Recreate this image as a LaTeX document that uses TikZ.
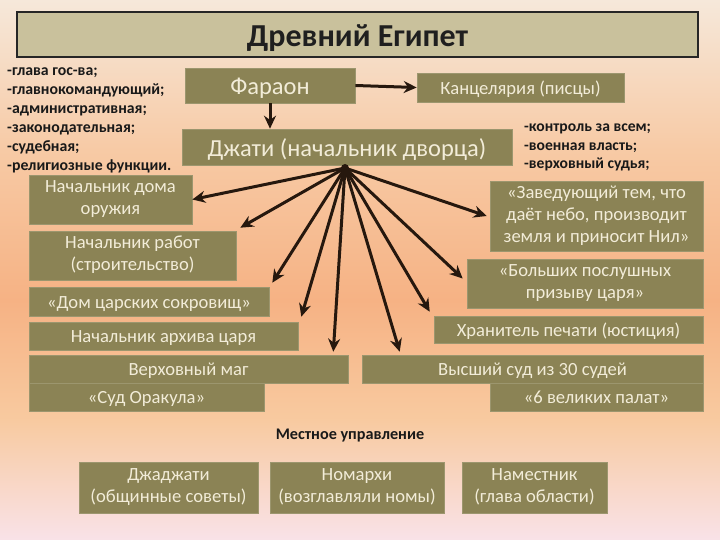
\documentclass[tikz,border=0pt]{standalone}
\usepackage{fontspec}
\setmainfont{Carlito}
\usetikzlibrary{arrows.meta}
\definecolor{bgA}{RGB}{246,232,218}
\definecolor{bgB}{RGB}{247,202,165}
\definecolor{bgC}{RGB}{246,178,132}
\definecolor{bgD}{RGB}{248,202,160}
\definecolor{bgE}{RGB}{249,226,232}
\definecolor{olive}{RGB}{139,131,85}
\definecolor{cream}{RGB}{242,236,216}
\definecolor{titlefill}{RGB}{201,193,156}
\definecolor{arr}{RGB}{38,24,14}
\tikzset{
  lowtext/.style={execute at begin node={\rule{0pt}{0.98em}}, execute at end node={\rule[-0.24em]{0pt}{0pt}}},
  box/.style={fill=olive, draw=olive!85!white, line width=0.6pt, text=cream, align=center, inner sep=2pt, font=\fontsize{18.6}{22}\selectfont, lowtext},
  bigbox/.style={box, font=\fontsize{24.5}{28}\selectfont},
  arrowline/.style={draw=arr, line width=3pt, -{Stealth[length=13pt,width=12pt]}},
  dark/.style={text=black!90, inner sep=0pt},
  lefttxt/.style={dark, anchor=base west, font=\fontsize{15.8}{18}\selectfont\bfseries},
  righttxt/.style={dark, anchor=base west, font=\fontsize{15.6}{18}\selectfont\bfseries}
}
\begin{document}
\begin{tikzpicture}[x=1pt,y=-1pt]
\useasboundingbox (0,0) rectangle (720,540);
\shade[top color=bgA, bottom color=bgB] (0,0) rectangle (720,150.5);
\shade[top color=bgB, bottom color=bgC] (0,150) rectangle (720,300.5);
\shade[top color=bgC, bottom color=bgD] (0,300) rectangle (720,420.5);
\shade[top color=bgD, bottom color=bgE] (0,420) rectangle (720,540);
% title
\node[fill=titlefill, draw=black!85, line width=1.3pt, minimum width=681pt, minimum height=45pt, inner sep=0pt, font=\fontsize{32}{34}\selectfont\bfseries, text=black!88, lowtext] (title) at (357.5,34.5) {Древний Египет};
% top chain
\node[bigbox, minimum width=170pt, minimum height=35pt] (phar) at (270,85.5) {Фараон};
\node[box, minimum width=207pt, minimum height=29pt] (kanc) at (520.5,87.5) {Канцелярия (писцы)};
\node[bigbox, minimum width=330pt, minimum height=36pt] (dzh) at (347,147) {Джати (начальник дворца)};
% left text
\node[lefttxt] (d1) at (7,76) {-глава гос-ва;};
\node[lefttxt] (d2) at (7,95) {-главнокомандующий;};
\node[lefttxt] (d3) at (7,114) {-административная;};
\node[lefttxt] (d4) at (7,133) {-законодательная;};
\node[lefttxt] (d5) at (7,152) {-судебная;};
\node[lefttxt] (d6) at (7,171) {-религиозные функции.};
\node[righttxt] (j1) at (524,132) {-контроль за всем;};
\node[righttxt] (j2) at (524,151) {-военная власть;};
\node[righttxt] (j3) at (524,169) {-верховный судья;};
% left boxes
\node[box, minimum width=163pt, minimum height=49pt] (b1) at (110.5,199.5) {Начальник дома\\оружия};
\node[box, minimum width=207pt, minimum height=49pt] (b2) at (132.5,255.5) {Начальник работ\\(строительство)};
\node[box, minimum width=240pt, minimum height=29pt] (b3) at (149,301.5) {«Дом царских сокровищ»};
\node[box, minimum width=269pt, minimum height=28pt] (b4) at (163.5,336) {Начальник архива царя};
\node[box, minimum width=319pt, minimum height=28pt] (b5) at (188.5,369) {Верховный маг};
\node[box, minimum width=235pt, minimum height=28pt] (b6) at (146.5,397) {«Суд Оракула»};
% right boxes
\node[box, minimum width=213pt, minimum height=70pt] (r1) at (596.5,216) {«Заведующий тем, что\\даёт небо, производит\\земля и приносит Нил»};
\node[box, minimum width=236pt, minimum height=49pt] (r2) at (585,283.5) {«Больших послушных\\призыву царя»};
\node[box, minimum width=269pt, minimum height=27pt] (r3) at (568.5,329.5) {Хранитель печати (юстиция)};
\node[box, minimum width=341pt, minimum height=28pt] (r5) at (532.5,369) {Высший суд из 30 судей};
\node[box, minimum width=213pt, minimum height=28pt] (r6) at (596.5,397) {«6 великих палат»};
% local
\node[dark, font=\fontsize{16.2}{18}\selectfont\bfseries] (local) at (350,436) {Местное управление};
\node[box, minimum width=179pt, minimum height=51pt] (l1) at (168.5,487.5) {Джаджати\\(общинные советы)};
\node[box, minimum width=174pt, minimum height=51pt] (l2) at (357,487.5) {Номархи\\(возглавляли номы)};
\node[box, minimum width=145pt, minimum height=51pt] (l3) at (534.5,487.5) {Наместник\\(глава области)};
% arrows
\draw[arrowline] (phar.east) -- (kanc.west);
\draw[arrowline] (phar.south) -- (phar.south |- dzh.north);
\coordinate (hub) at (345,168);
\draw[arrowline] (hub) -- (b1.east);
\draw[arrowline] (hub) -- ([xshift=4pt,yshift=3pt]b2.north east);
\draw[arrowline] (hub) -- ([xshift=3pt,yshift=4pt]b3.north east);
\draw[arrowline] (hub) -- ([xshift=3pt,yshift=5pt]b4.north east);
\draw[arrowline] (hub) -- ([xshift=-15pt,yshift=3pt]b5.north east);
\draw[arrowline] (hub) -- ([xshift=38pt,yshift=3pt]r5.north west);
\draw[arrowline] (hub) -- ([xshift=-4pt,yshift=4pt]r3.north west);
\draw[arrowline] (hub) -- ([xshift=-4pt,yshift=5pt]r2.west);
\draw[arrowline] (hub) -- ([xshift=-3pt]r1.west);
\fill[arr] (hub) circle (4pt);
\end{tikzpicture}
\end{document}
